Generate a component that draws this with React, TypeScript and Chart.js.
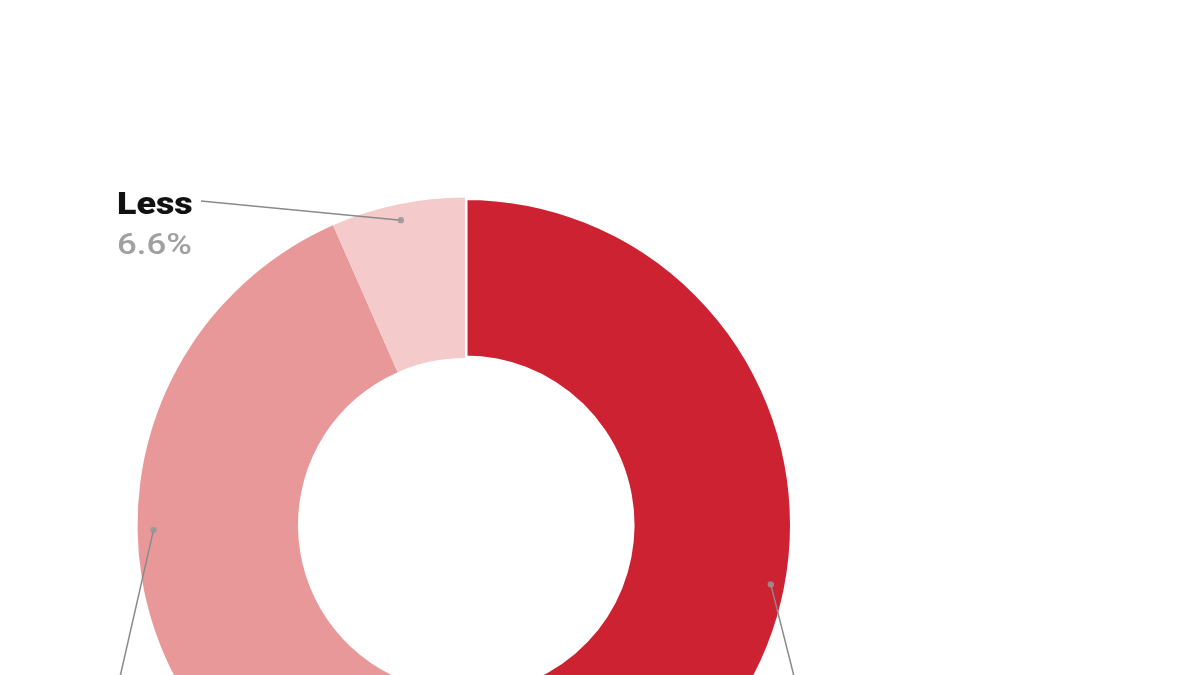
import React, { useEffect, useRef } from "react";
import { Chart, registerables } from "chart.js";

Chart.register(...registerables);

const categories = ["More", "About the same", "Less"];
const shares = [56.1, 37.3, 6.6];
const colors = ["#CD2232", "#E9989A", "#F4CACB"];

// label anchor points (layout only)
const labelAnchors = [
  { lineEnd: [800, 700], textX: 805, nameY: 735, pctY: 772 },
  { lineEnd: [112, 712], textX: 40, nameY: 745, pctY: 782 },
  { lineEnd: [201, 201], textX: 117, nameY: 214, pctY: 254 },
];

const CANVAS_W = 1200;
const CANVAS_H = 1100;

function wideText(ctx: CanvasRenderingContext2D, text: string, x: number, y: number, sx: number) {
  ctx.save();
  ctx.translate(x, y);
  ctx.scale(sx, 1);
  ctx.fillText(text, 0, 0);
  ctx.restore();
}

const leaderPlugin = {
  id: "leaders",
  afterDatasetsDraw(chart: any) {
    const ctx = chart.ctx as CanvasRenderingContext2D;
    const meta = chart.getDatasetMeta(0);
    meta.data.forEach((arc: any, i: number) => {
      const { x, y, startAngle, endAngle, outerRadius } = arc.getProps(
        ["x", "y", "startAngle", "endAngle", "outerRadius"],
        true
      );
      const mid = (startAngle + endAngle) / 2;
      const r = outerRadius - 16;
      const px = x + Math.cos(mid) * r;
      const py = y + Math.sin(mid) * r;
      const a = labelAnchors[i];
      ctx.save();
      ctx.strokeStyle = "#8a8a8a";
      ctx.lineWidth = 1.5;
      ctx.beginPath();
      ctx.moveTo(px, py);
      ctx.lineTo(a.lineEnd[0], a.lineEnd[1]);
      ctx.stroke();
      ctx.fillStyle = "rgba(150,150,150,0.85)";
      ctx.beginPath();
      ctx.arc(px, py, 3.2, 0, Math.PI * 2);
      ctx.fill();
      ctx.textAlign = "left";
      ctx.textBaseline = "alphabetic";
      ctx.fillStyle = "#111111";
      ctx.font = "900 32px Roboto";
      wideText(ctx, categories[i], a.textX, a.nameY, 1.12);
      ctx.fillStyle = "#a0a0a0";
      ctx.font = "500 30px Roboto";
      wideText(ctx, shares[i].toFixed(1) + "%", a.textX, a.pctY, 1.16);
      ctx.restore();
    });
  },
};

export default function App() {
  const ref = useRef<HTMLCanvasElement | null>(null);
  useEffect(() => {
    if (!ref.current) return;
    const chart = new Chart(ref.current, {
      type: "doughnut",
      data: {
        labels: categories,
        datasets: [
          {
            data: shares,
            backgroundColor: colors,
            borderColor: "#ffffff",
            borderWidth: [5, 0, 0],
            hoverOffset: 0,
          },
        ],
      },
      options: {
        responsive: false,
        animation: false,
        cutout: "51%",
        layout: { padding: { left: 135, top: 195, right: 1200 - 135 - 660, bottom: CANVAS_H - 195 - 660 } },
        plugins: { legend: { display: false }, tooltip: { enabled: false } },
        events: [],
      },
      plugins: [leaderPlugin],
    });
    return () => chart.destroy();
  }, []);
  return (
    <div
      style={{
        position: "fixed",
        left: 0,
        top: 0,
        width: 1200,
        height: 675,
        overflow: "hidden",
        background: "#ffffff",
      }}
    >
      <canvas ref={ref} width={CANVAS_W} height={CANVAS_H} style={{ display: "block" }} />
    </div>
  );
}
